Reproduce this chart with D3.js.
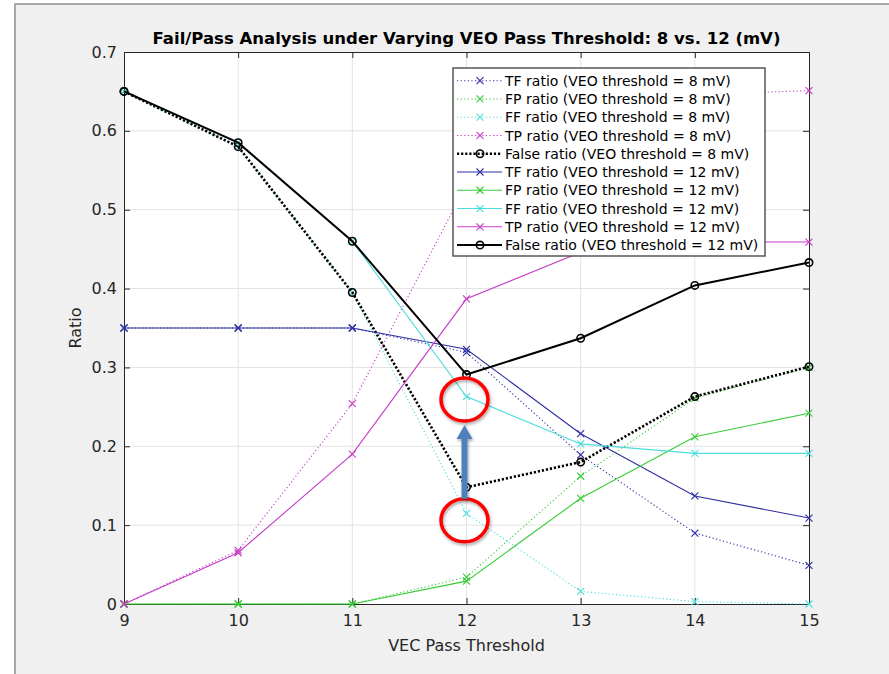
<!DOCTYPE html>
<html>
<meta charset="utf-8">
<style>
body{margin:0;background:#fff;}
text{font-family:"DejaVu Sans",sans-serif;fill:#262626;}
.grid line{stroke:#e3e3e3;stroke-width:1;}
.title{font-weight:bold;font-size:16.5px;fill:#000;}
.tick text{font-size:16px;}
.legend text{font-size:14px;fill:#000;}
</style>
<body>
<script src="https://d3js.org/d3.v7.min.js"></script>
<script>

// VEC pass threshold
var thresholds=[9,10,11,12,13,14,15];
var yTicks=[0,0.1,0.2,0.3,0.4,0.5,0.6,0.7];

// VEO threshold = 8 mV
var tf8=[0.35,0.35,0.35,0.319,0.189,0.090,0.049];
var fp8=[0,0,0,0.034,0.162,0.261,0.300];
var ff8=[0.65,0.580,0.395,0.115,0.016,0.003,0];
var tp8=[0,0.068,0.254,0.532,0.632,0.646,0.651];
var false8=[0.65,0.580,0.395,0.148,0.180,0.263,0.301];

// VEO threshold = 12 mV
var tf12=[0.35,0.35,0.35,0.323,0.216,0.137,0.109];
var fp12=[0,0,0,0.029,0.134,0.212,0.242];
var ff12=[0.65,0.585,0.460,0.263,0.203,0.191,0.191];
var tp12=[0,0.065,0.190,0.387,0.446,0.459,0.459];
var false12=[0.65,0.585,0.460,0.291,0.337,0.404,0.433];

var blue="#2e2ea2", green="#38cc38", cyan="#4cdcdc", magenta="#c63cc6";

var series=[
 {name:"TF ratio (VEO threshold = 8 mV)",values:tf8,color:blue,dotted:true,marker:"x"},
 {name:"FP ratio (VEO threshold = 8 mV)",values:fp8,color:green,dotted:true,marker:"x"},
 {name:"FF ratio (VEO threshold = 8 mV)",values:ff8,color:cyan,dotted:true,marker:"x"},
 {name:"TP ratio (VEO threshold = 8 mV)",values:tp8,color:magenta,dotted:true,marker:"x"},
 {name:"False ratio (VEO threshold = 8 mV)",values:false8,color:"#000",dotted:true,marker:"o"},
 {name:"TF ratio (VEO threshold = 12 mV)",values:tf12,color:blue,dotted:false,marker:"x"},
 {name:"FP ratio (VEO threshold = 12 mV)",values:fp12,color:green,dotted:false,marker:"x"},
 {name:"FF ratio (VEO threshold = 12 mV)",values:ff12,color:cyan,dotted:false,marker:"x"},
 {name:"TP ratio (VEO threshold = 12 mV)",values:tp12,color:magenta,dotted:false,marker:"x"},
 {name:"False ratio (VEO threshold = 12 mV)",values:false12,color:"#000",dotted:false,marker:"o"}
];

var W=889,H=674;
var svg=d3.select("body").append("svg").attr("width",W).attr("height",H);

var defs=svg.append("defs");
defs.append("filter").attr("id","shadow").attr("x","-30%").attr("y","-30%").attr("width","160%").attr("height","160%")
  .append("feDropShadow").attr("dx",1).attr("dy",2).attr("stdDeviation",1.6)
  .attr("flood-color","#000").attr("flood-opacity",0.35);

// figure window
svg.append("rect").attr("x",15).attr("y",4).attr("width",W).attr("height",H)
  .attr("fill","#f0f0f0").attr("stroke","#a8a8a8").attr("stroke-width",2);

var x=d3.scaleLinear().domain([9,15]).range([124,809]);
var y=d3.scaleLinear().domain([0,0.7]).range([604,52]);

svg.append("rect").attr("x",x(9)).attr("y",y(0.7)).attr("width",x(15)-x(9)).attr("height",y(0)-y(0.7)).attr("fill","#fff");

// grid
var grid=svg.append("g").attr("class","grid");
grid.selectAll(".gx").data(thresholds.slice(1,-1)).enter().append("line")
  .attr("x1",d=>x(d)).attr("x2",d=>x(d)).attr("y1",y(0)).attr("y2",y(0.7));
grid.selectAll(".gy").data(yTicks.slice(1,-1)).enter().append("line")
  .attr("x1",x(9)).attr("x2",x(15)).attr("y1",d=>y(d)).attr("y2",d=>y(d));

// axes (inward ticks, box)
var fmt=d=>d===0?"0":d3.format(".1f")(d);
var xAxis=svg.append("g").attr("transform","translate(0,"+y(0)+")")
  .call(d3.axisBottom(x).tickValues(thresholds).tickFormat(d3.format("d")).tickSizeInner(-6).tickSizeOuter(0).tickPadding(11));
var yAxis=svg.append("g").attr("transform","translate("+x(9)+",0)")
  .call(d3.axisLeft(y).tickValues(yTicks).tickFormat(fmt).tickSizeInner(-6).tickSizeOuter(0).tickPadding(7));
svg.append("g").attr("transform","translate(0,"+y(0.7)+")")
  .call(d3.axisTop(x).tickValues(thresholds).tickFormat("").tickSizeInner(-6).tickSizeOuter(0));
svg.append("g").attr("transform","translate("+x(15)+",0)")
  .call(d3.axisRight(y).tickValues(yTicks).tickFormat("").tickSizeInner(-6).tickSizeOuter(0));
svg.selectAll(".domain").attr("stroke","#262626");
svg.selectAll(".tick line").attr("stroke","#262626");
svg.selectAll(".tick text").attr("fill","#262626");

// lines
var line=d3.line().x((d,i)=>x(thresholds[i])).y(d=>y(d));
var plot=svg.append("g");
series.forEach(function(s){
  var g=plot.append("g");
  var black=s.color==="#000";
  g.append("path").attr("d",line(s.values)).attr("fill","none").attr("stroke",s.color)
    .attr("stroke-width",black?(s.dotted?2.6:2):1.1)
    .attr("stroke-dasharray",s.dotted?(black?"2.2,1.9":"1.2,2.4"):null);
  drawMarkers(g,s,s.values.map((v,i)=>[x(thresholds[i]),y(v)]));
});

function drawMarkers(g,s,pts){
  if(s.marker==="x"){
    var r=3.5;
    g.selectAll(null).data(pts).enter().append("path")
      .attr("d",p=>"M"+(p[0]-r)+","+(p[1]-r)+"L"+(p[0]+r)+","+(p[1]+r)+"M"+(p[0]-r)+","+(p[1]+r)+"L"+(p[0]+r)+","+(p[1]-r))
      .attr("stroke",s.color).attr("stroke-width",1.1).attr("fill","none");
  } else {
    g.selectAll(null).data(pts).enter().append("circle")
      .attr("cx",p=>p[0]).attr("cy",p=>p[1]).attr("r",3.7)
      .attr("stroke","#000").attr("stroke-width",1.6).attr("fill","none");
  }
}

// labels
svg.append("text").attr("class","title").attr("x",(x(9)+x(15))/2).attr("y",43.5)
  .attr("text-anchor","middle").text("Fail/Pass Analysis under Varying VEO Pass Threshold: 8 vs. 12 (mV)");
svg.append("text").attr("x",(x(9)+x(15))/2).attr("y",651).attr("text-anchor","middle")
  .style("font-size","16px").text("VEC Pass Threshold");
svg.append("text").attr("transform","translate(81,"+((y(0)+y(0.7))/2)+") rotate(-90)")
  .attr("text-anchor","middle").style("font-size","16px").text("Ratio");

// legend
var lg=svg.append("g").attr("class","legend");
lg.append("rect").attr("x",453).attr("y",68).attr("width",312).attr("height",188)
  .attr("fill","#fff").attr("stroke","#4a4a4a").attr("stroke-width",1.4);
series.forEach(function(s,i){
  var cy=80.7+i*18.26;
  var g=lg.append("g");
  var black=s.color==="#000";
  g.append("line").attr("x1",457).attr("x2",502).attr("y1",cy).attr("y2",cy).attr("stroke",s.color)
    .attr("stroke-width",black?(s.dotted?2.6:2):1.1)
    .attr("stroke-dasharray",s.dotted?(black?"2.2,1.9":"1.2,2.4"):null);
  drawMarkers(g,s,[[480,cy]]);
  g.append("text").attr("x",505).attr("y",cy).attr("dy","0.36em").text(s.name);
});

// annotation: red circles and arrow at threshold 12
var ax=x(12)-2;
var upY=y(ff12[3])+3, loY=y(ff8[3])+7, ry=21.5;
var ann=svg.append("g");
[upY,loY].forEach(function(cy){
  ann.append("ellipse").attr("cx",ax).attr("cy",cy).attr("rx",23.5).attr("ry",ry)
    .attr("fill","none").attr("stroke","#ff0000").attr("stroke-width",3.5).attr("filter","url(#shadow)");
});
var tip=upY+ry+4, base=tip+14, tail=loY-ry;
ann.append("path")
  .attr("d","M"+(ax-3)+","+tail+"L"+(ax-3)+","+base+"L"+(ax-8)+","+base+"L"+ax+","+tip+"L"+(ax+8)+","+base+"L"+(ax+3)+","+base+"L"+(ax+3)+","+tail+"Z")
  .attr("fill","#4f81bd").attr("filter","url(#shadow)");

</script>
</body>
</html>
